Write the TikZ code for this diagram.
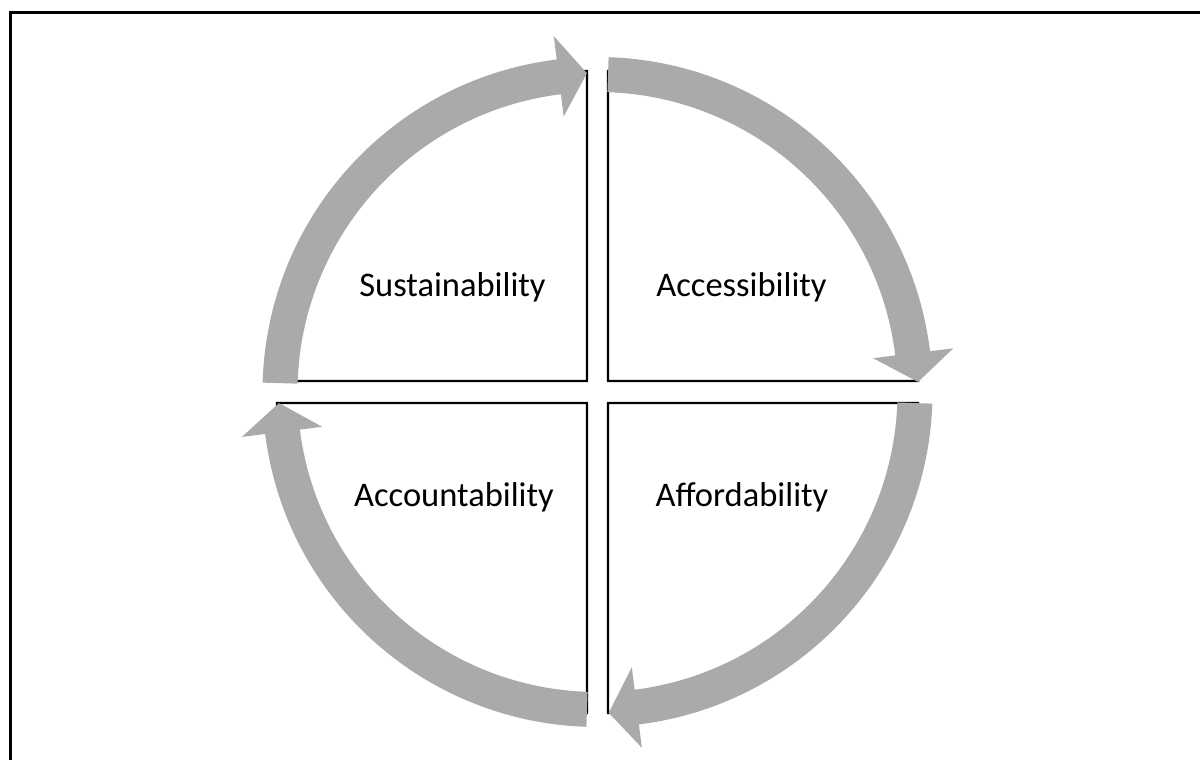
\documentclass[tikz,border=0pt]{standalone}
\usepackage{fontspec}
\setmainfont{Carlito}
\definecolor{arrowgray}{RGB}{170,170,170}
\tikzset{
  arrowband/.style={fill=arrowgray, draw=none},
  sector/.style={draw=black, line width=2.3pt, fill=white},
  label/.style={anchor=base, font=\fontsize{34.5}{40}\selectfont, inner sep=0pt},
  frameline/.style={draw=black, line width=3pt}
}
\begin{document}
\begin{tikzpicture}[x=1pt,y=-1pt]
\useasboundingbox (0,0) rectangle (1200,760);
\fill[white] (0,0) rectangle (1200,760);
\draw[frameline] (10.5,761) -- (10.5,12.5) -- (1201,12.5);

\begin{scope}[shift={(597.5,392)}, yscale=-1]
  % quarter sectors
  \draw[sector] (10.5,11) -- (10.5,321) arc[start angle=90,end angle=0,radius=310] -- cycle;
  \draw[sector] (10.5,-11) -- (320.5,-11) arc[start angle=0,end angle=-90,radius=310] -- cycle;
  \draw[sector] (-10.5,-11) -- (-10.5,-321) arc[start angle=270,end angle=180,radius=310] -- cycle;
  \draw[sector] (-10.5,11) -- (-320.5,11) arc[start angle=180,end angle=90,radius=310] -- cycle;
  % arrows
  \fill[arrowband] (88.1:335) arc[start angle=88.1,end angle=7,radius=335]
     -- (7:358.5) -- (1.8:320.7) -- (7:277.5) -- (7:300)
     arc[start angle=7,end angle=88.1,radius=300] -- cycle;
  \fill[arrowband] (-2:335) arc[start angle=-2,end angle=-82.9,radius=335]
     -- (-82.9:358.5) -- (-88:321) -- (-82.9:277.5) -- (-82.9:300)
     arc[start angle=-82.9,end angle=-2,radius=300] -- cycle;
  \fill[arrowband] (268.1:335) arc[start angle=268.1,end angle=187.2,radius=335]
     -- (187.2:358.5) -- (182:318.7) -- (187.2:277.5) -- (187.2:300)
     arc[start angle=187.2,end angle=268.1,radius=300] -- cycle;
  \fill[arrowband] (178.4:335) arc[start angle=178.4,end angle=97,radius=335]
     -- (97:358.5) -- (91.9:319) -- (97:277.5) -- (97:300)
     arc[start angle=97,end angle=178.4,radius=300] -- cycle;
\end{scope}

\node[label] (sust) at (452.5,296) {Sustainability};
\node[label] (acce) at (741.5,296) {Accessibility};
\node[label] (acco) at (454,506) {Accountability};
\node[label] (affo) at (742,506) {Affordability};
\end{tikzpicture}
\end{document}
